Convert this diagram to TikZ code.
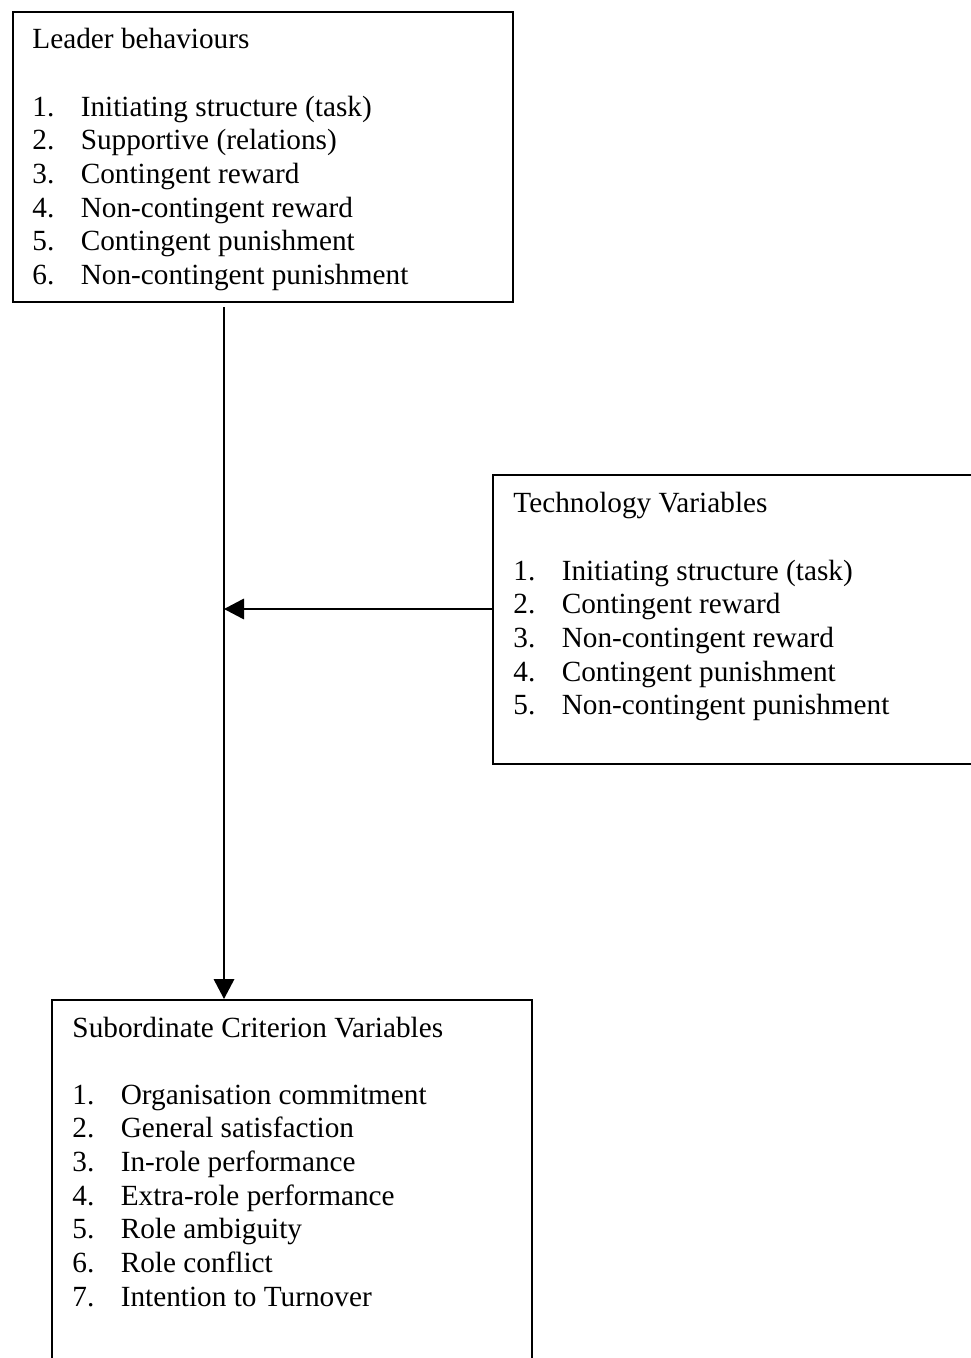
\documentclass[tikz,border=0pt]{standalone}
\usepackage{fontspec}
\setmainfont{Liberation Serif}
\usetikzlibrary{arrows.meta}
\tikzset{
  frame/.style={draw=black, line width=0.8pt, rectangle, inner sep=0pt, anchor=north west},
  listtext/.style={anchor=base west, inner sep=0pt, font=\fontsize{12}{13.8}\selectfont},
  conn/.style={draw=black, line width=0.8pt},
  arr/.style={conn, -{Triangle[width=8.4pt,length=8.2pt]}}
}
\newcommand{\itemlist}[2]{\begin{tabular}[t]{@{}p{19.8pt}@{}l@{}}\multicolumn{2}{@{}l@{}}{#1}\\ \\ #2\end{tabular}}
\begin{document}
\begin{tikzpicture}[x=0.41pt,y=-0.41pt]
\useasboundingbox (0,0) rectangle (970,1358);
% boxes
\node[frame, minimum width=205pt, minimum height=118.9pt] (lead) at (12,11) {};
\node[frame, minimum width=210pt, minimum height=118.5pt] (tech) at (492,474) {};
\node[frame, minimum width=196.8pt, minimum height=170pt] (sub) at (51,999) {};
% texts
\node[listtext] (leadtxt) at (32,49) {\itemlist{Leader behaviours}{%
1. & Initiating structure (task)\\
2. & Supportive (relations)\\
3. & Contingent reward\\
4. & Non-contingent reward\\
5. & Contingent punishment\\
6. & Non-contingent punishment}};
\node[listtext] (techtxt) at (513,513) {\itemlist{Technology Variables}{%
1. & Initiating structure (task)\\
2. & Contingent reward\\
3. & Non-contingent reward\\
4. & Contingent punishment\\
5. & Non-contingent punishment}};
\node[listtext] (subtxt) at (72,1037) {\itemlist{Subordinate Criterion Variables}{%
1. & Organisation commitment\\
2. & General satisfaction\\
3. & In-role performance\\
4. & Extra-role performance\\
5. & Role ambiguity\\
6. & Role conflict\\
7. & Intention to Turnover}};
% connectors
\coordinate (vstart) at (224,307);
\coordinate (hy) at (0,609);
\draw[arr] (vstart) -- (vstart |- sub.north);
\draw[arr] (tech.west |- hy) -- (vstart |- hy);
\end{tikzpicture}
\end{document}
